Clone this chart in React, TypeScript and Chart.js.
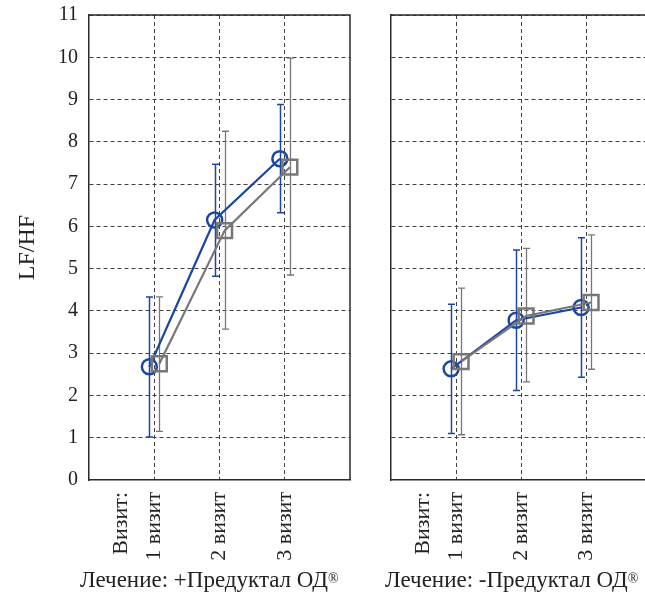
import React, { useEffect, useRef } from "react";
import { Chart, registerables } from "chart.js";

Chart.register(...registerables);

// ---- data ----
const visits = [1, 2, 3];
const visitLabels = ["1 визит", "2 визит", "3 визит"];
const visitHeader = "Визит:";
const yTicks = [0, 1, 2, 3, 4, 5, 6, 7, 8, 9, 10, 11];

// Panel 1: Лечение +Предуктал ОД
const blueMeanPlus = [2.68, 6.15, 7.6];
const blueHiPlus = [4.33, 7.47, 8.88];
const blueLoPlus = [1.02, 4.82, 6.32];
const grayMeanPlus = [2.75, 5.9, 7.4];
const grayHiPlus = [4.33, 8.25, 9.98];
const grayLoPlus = [1.15, 3.57, 4.85];

// Panel 2: Лечение -Предуктал ОД
const blueMeanMinus = [2.63, 3.78, 4.08];
const blueHiMinus = [4.16, 5.44, 5.73];
const blueLoMinus = [1.1, 2.12, 2.43];
const grayMeanMinus = [2.8, 3.88, 4.2];
const grayHiMinus = [4.54, 5.48, 5.8];
const grayLoMinus = [1.07, 2.32, 2.62];

const panelTitles = ["Лечение: +Предуктал ОД", "Лечение: -Предуктал ОД"];

const BLUE = "#1b47a3";
const GRAY = "#777777";
const GRID = "#404040";
const AXIS = "#2a2a2a";
const FONT = "'Liberation Serif', 'Times New Roman', serif";
const BLUE_OFF = -0.075;
const GRAY_OFF = 0.078;

const errorBarPlugin = {
  id: "errorBars",
  beforeDatasetsDraw(chart: any) {
    const ctx = chart.ctx;
    const xs = chart.scales.x;
    const ys = chart.scales.y;
    chart.data.datasets.forEach((ds: any) => {
      if (!ds.errHi) return;
      ctx.save();
      ctx.strokeStyle = ds.borderColor;
      ctx.lineWidth = ds.errWidth || 1.2;
      ds.data.forEach((p: any, i: number) => {
        const x = Math.round(xs.getPixelForValue(p.x)) + 0.5;
        const yh = ys.getPixelForValue(ds.errHi[i]);
        const yl = ys.getPixelForValue(ds.errLo[i]);
        ctx.beginPath();
        ctx.moveTo(x, yh);
        ctx.lineTo(x, yl);
        ctx.moveTo(x - 3.5, yh);
        ctx.lineTo(x + 3.5, yh);
        ctx.moveTo(x - 3.5, yl);
        ctx.lineTo(x + 3.5, yl);
        ctx.stroke();
      });
      ctx.restore();
    });
  },
};

const framePlugin = {
  id: "frame",
  afterDraw(chart: any) {
    const { ctx, chartArea } = chart;
    ctx.save();
    ctx.strokeStyle = AXIS;
    ctx.lineWidth = 1.5;
    ctx.beginPath();
    ctx.moveTo(chartArea.left, chartArea.top);
    ctx.lineTo(chartArea.right, chartArea.top);
    ctx.lineTo(chartArea.right, chartArea.bottom);
    ctx.stroke();
    ctx.restore();
  },
};

function makeConfig(
  bMean: number[], bHi: number[], bLo: number[],
  gMean: number[], gHi: number[], gLo: number[],
  showY: boolean, yAxisWidth: number, rightPad: number
): any {
  return {
    type: "line",
    data: {
      datasets: [
        {
          label: "gray",
          data: visits.map((v, i) => ({ x: v + GRAY_OFF, y: gMean[i] })),
          errHi: gHi,
          errLo: gLo,
          errWidth: 1.3,
          borderColor: GRAY,
          backgroundColor: "rgba(0,0,0,0)",
          borderWidth: 2.2,
          pointStyle: "rect",
          pointRadius: 10.5,
          pointBorderWidth: 2.5,
          pointBackgroundColor: "rgba(0,0,0,0)",
          pointBorderColor: GRAY,
          tension: 0,
        },
        {
          label: "blue",
          data: visits.map((v, i) => ({ x: v + BLUE_OFF, y: bMean[i] })),
          errHi: bHi,
          errLo: bLo,
          errWidth: 1.5,
          borderColor: BLUE,
          backgroundColor: "rgba(0,0,0,0)",
          borderWidth: 2.2,
          pointStyle: "circle",
          pointRadius: 7.5,
          pointBorderWidth: 2.5,
          pointBackgroundColor: "rgba(0,0,0,0)",
          pointBorderColor: BLUE,
          tension: 0,
        },
      ],
    },
    options: {
      responsive: false,
      animation: false,
      events: [],
      layout: { padding: { left: 0, top: 15, right: rightPad, bottom: 0 } },
      plugins: { legend: { display: false }, tooltip: { enabled: false } },
      scales: {
        x: {
          type: "linear",
          min: 0,
          max: 4,
          afterBuildTicks: (scale: any) => {
            scale.ticks = [0.5, ...visits].map((v) => ({ value: v }));
          },
          afterFit: (scale: any) => {
            scale.height = 117;
            scale.paddingLeft = 0;
            scale.paddingRight = 0;
          },
          ticks: {
            autoSkip: false,
            minRotation: 90,
            maxRotation: 90,
            padding: 12,
            color: "#222",
            font: { family: FONT, size: 22 },
            callback: (value: number) => {
              if (value === 0.5) return visitHeader;
              const idx = visits.indexOf(value);
              return idx >= 0 ? visitLabels[idx] : "";
            },
          },
          grid: {
            drawTicks: false,
            color: (c: any) =>
              c.tick && (c.tick.value === 0.5 || c.tick.value === 0) ? "rgba(0,0,0,0)" : GRID,
            lineWidth: 1,
          },
          border: { display: true, color: AXIS, width: 1.5, dash: [4, 3] },
        },
        y: {
          type: "linear",
          min: 0,
          max: 11,
          afterBuildTicks: (scale: any) => {
            scale.ticks = yTicks.map((v) => ({ value: v }));
          },
          afterFit: (scale: any) => {
            scale.width = yAxisWidth;
            scale.paddingTop = 0;
            scale.paddingBottom = 0;
          },
          ticks: {
            display: showY,
            padding: 11,
            color: "#222",
            font: { family: FONT, size: 20 },
          },
          title: {
            display: showY,
            text: "LF/HF",
            color: "#222",
            font: { family: FONT, size: 24 },
            padding: { top: 13, bottom: 0 },
          },
          grid: {
            drawTicks: false,
            color: (c: any) => (c.tick && c.tick.value === 0 ? "rgba(0,0,0,0)" : GRID),
            lineWidth: 1,
          },
          border: { display: true, color: AXIS, width: 1.5, dash: [4, 3] },
        },
      },
    },
    plugins: [errorBarPlugin, framePlugin],
  };
}

function Panel(props: { config: any; left: number; width: number }) {
  const ref = useRef<HTMLCanvasElement | null>(null);
  useEffect(() => {
    if (!ref.current) return;
    const chart = new Chart(ref.current, props.config);
    return () => chart.destroy();
  }, []);
  return (
    <canvas
      ref={ref}
      width={props.width}
      height={597}
      style={{ position: "absolute", left: props.left, top: 0, width: props.width, height: 597 }}
    />
  );
}

const labelStyle: React.CSSProperties = {
  position: "absolute",
  top: 567,
  fontFamily: FONT,
  fontSize: 23,
  lineHeight: "26px",
  color: "#222",
  whiteSpace: "nowrap",
};

const supStyle: React.CSSProperties = {
  fontSize: 14,
  verticalAlign: "top",
  position: "relative",
  top: -1,
};

export default function App() {
  const cfg1 = makeConfig(blueMeanPlus, blueHiPlus, blueLoPlus, grayMeanPlus, grayHiPlus, grayLoPlus, true, 89, 20);
  const cfg2 = makeConfig(blueMeanMinus, blueHiMinus, blueLoMinus, grayMeanMinus, grayHiMinus, grayLoMinus, false, 21, 19);
  return (
    <div
      style={{
        position: "absolute",
        left: 0,
        top: 0,
        width: 645,
        height: 597,
        overflow: "hidden",
        background: "#fff",
      }}
    >
      <Panel config={cfg1} left={0} width={370} />
      <Panel config={cfg2} left={370} width={300} />
      <div style={{ ...labelStyle, left: 80 }}>
        {panelTitles[0]}
        <sup style={supStyle}>®</sup>
      </div>
      <div style={{ ...labelStyle, left: 385 }}>
        {panelTitles[1]}
        <sup style={supStyle}>®</sup>
      </div>
    </div>
  );
}
